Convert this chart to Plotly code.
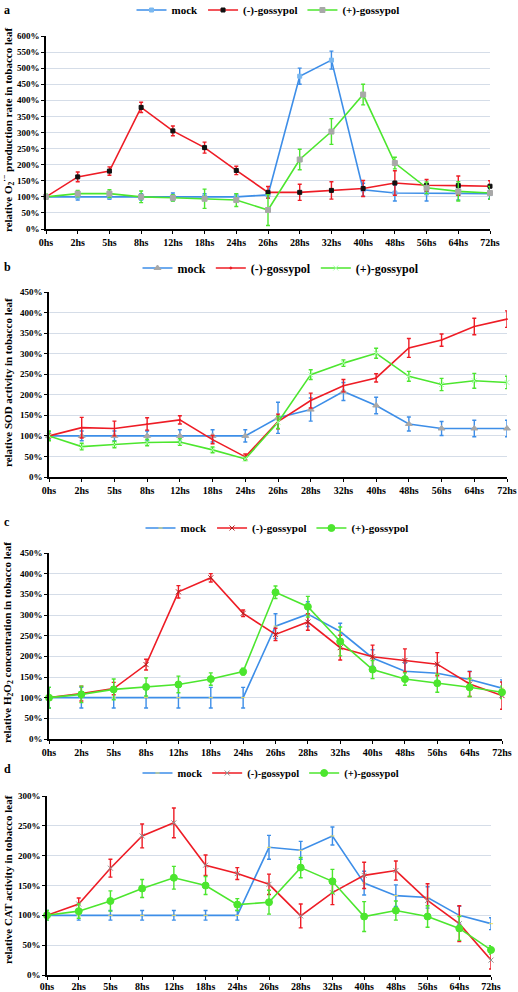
import plotly.graph_objects as go

W, H = 518, 992

times = ["0hs", "2hs", "5hs", "8hs", "12hs", "18hs", "24hs", "26hs", "28hs", "32hs", "40hs", "48hs", "56hs", "64hs", "72hs"]
series_names = ["mock", "(-)-gossypol", "(+)-gossypol"]

# Panel a: relative O2- production rate (%)
a_mock = [100, 100, 100, 100, 100, 100, 100, 106, 475, 525, 122, 112, 112, 110, 110]
a_mock_err = [5, 10, 8, 10, 12, 10, 8, 10, 25, 28, 20, 25, 25, 20, 15]
a_neg = [100, 162, 180, 378, 305, 253, 182, 114, 114, 120, 126, 143, 136, 135, 133]
a_neg_err = [5, 15, 13, 16, 15, 17, 13, 18, 25, 27, 25, 38, 18, 30, 17]
a_pos = [100, 110, 110, 100, 97, 94, 90, 59, 216, 303, 418, 205, 128, 117, 112]
a_pos_err = [8, 10, 12, 18, 10, 30, 20, 48, 32, 40, 32, 18, 18, 30, 20]

# Panel b: relative SOD activity (%)
b_mock = [100, 100, 100, 100, 100, 100, 100, 144, 164, 208, 174, 129, 118, 118, 118]
b_mock_err = [10, 12, 12, 12, 15, 15, 15, 38, 28, 22, 20, 17, 17, 20, 20]
b_neg = [100, 120, 118, 129, 139, 91, 49, 135, 186, 222, 241, 314, 333, 366, 384]
b_neg_err = [5, 25, 18, 15, 10, 10, 7, 18, 18, 15, 10, 23, 15, 20, 20]
b_pos = [100, 74, 79, 84, 85, 66, 44, 133, 249, 277, 301, 245, 225, 234, 230]
b_pos_err = [12, 8, 8, 8, 8, 7, 4, 15, 12, 8, 12, 12, 15, 18, 15]

# Panel c: relative H2O2 concentration (%)
c_mock = [100, 100, 100, 100, 100, 100, 100, 273, 302, 260, 196, 164, 159, 144, 123]
c_mock_err = [25, 25, 25, 25, 25, 25, 25, 30, 30, 20, 20, 20, 20, 20, 20]
c_neg = [100, 110, 122, 180, 356, 390, 304, 253, 283, 221, 199, 190, 181, 133, 105]
c_neg_err = [5, 18, 15, 13, 15, 10, 8, 15, 20, 30, 28, 28, 28, 30, 33]
c_pos = [100, 108, 120, 126, 132, 145, 163, 355, 320, 236, 168, 145, 135, 125, 113]
c_pos_err = [25, 20, 25, 22, 20, 15, 8, 15, 25, 35, 22, 15, 22, 22, 15]

# Panel d: relative CAT activity (%)
d_mock = [100, 100, 100, 100, 100, 100, 100, 214, 209, 233, 154, 133, 130, 100, 86]
d_mock_err = [8, 8, 8, 8, 8, 8, 8, 20, 15, 15, 20, 18, 18, 15, 10]
d_neg = [100, 119, 179, 233, 255, 184, 170, 152, 99, 138, 167, 175, 125, 86, 25]
d_neg_err = [5, 10, 15, 20, 25, 17, 10, 17, 20, 20, 22, 16, 28, 30, 15]
d_pos = [100, 107, 124, 145, 163, 150, 118, 122, 180, 157, 98, 108, 98, 78, 42]
d_pos_err = [8, 12, 17, 15, 19, 15, 10, 20, 17, 20, 25, 16, 18, 20, 7]

y_titles = [
    "relative O<sub>2</sub><sup>·−</sup> production rate in tobacco leaf",
    "relative SOD activity in tobacco leaf",
    "relative H<sub>2</sub>O<sub>2</sub> concentration in tobacco leaf",
    "relative CAT activity in tobacco leaf",
]
panel_letters = ["a", "b", "c", "d"]
y_max = [600, 450, 450, 300]

BLUE = "#3d8ee8"
RED = "#ee1c25"
GREEN = "#4ce62e"
colors = [BLUE, RED, GREEN]

# marker styles per panel: (symbol, size, color) for mock, neg, pos
markers = [
    [("square", 4, "#7ab8f0"), ("square", 4, "#111111"), ("square", 5, "#a8a8a8")],
    [("triangle-up", 6, "#a8a8a8"), ("circle", 1, RED), ("x-thin-open", 5, "#aaffaa")],
    [("line-ew", 3, "#f0e060"), ("x-thin-open", 5, "#aa2020"), ("circle", 7, GREEN)],
    [("line-ew", 3, "#f0e060"), ("x-thin-open", 5, "#909090"), ("circle", 7, GREEN)],
]

data = [
    [(a_mock, a_mock_err), (a_neg, a_neg_err), (a_pos, a_pos_err)],
    [(b_mock, b_mock_err), (b_neg, b_neg_err), (b_pos, b_pos_err)],
    [(c_mock, c_mock_err), (c_neg, c_neg_err), (c_pos, c_pos_err)],
    [(d_mock, d_mock_err), (d_neg, d_neg_err), (d_pos, d_pos_err)],
]

# layout boxes in pixels: (x0, x1, ytop, ybottom)
boxes = [(46, 490, 36, 229), (49, 507, 292, 477), (49, 502, 553, 739), (47, 491, 796, 975)]
legend_pos = [(268, 10), (281, 268), (277, 528), (271, 773)]
legend_font = [11, 12, 11, 10.5]
xlabel_standoff = [0, 0, 0, -2]
letter_pos = [(7, 10), (7, 267), (7, 522), (7, 769)]
ytitle_pos = [(8, 130), (8, 383), (8, 643), (8, 880)]

FONT = "Liberation Serif"
fig = go.Figure()
xs = list(range(len(times)))

for p in range(4):
    ax = "" if p == 0 else str(p + 1)
    leg = "legend" if p == 0 else "legend%d" % (p + 1)
    for s in range(3):
        vals, errs = data[p][s]
        sym, sz, mc = markers[p][s]
        fig.add_trace(go.Scatter(
            x=xs, y=vals, name=series_names[s], mode="lines+markers",
            line=dict(color=colors[s], width=1.6),
            marker=dict(symbol=sym, size=sz, color=mc, line=dict(color=mc, width=1)),
            error_y=dict(type="data", array=errs, visible=True, color=colors[s], thickness=1.4, width=2),
            xaxis="x" + ax, yaxis="y" + ax, legend=leg, showlegend=True, cliponaxis=False,
        ))
    x0, x1, yt, yb = boxes[p]
    fig.layout["xaxis" + ax] = dict(
        domain=[x0 / W, x1 / W], anchor="y" + ax, range=[0, 14], automargin=False,
        tickmode="array", tickvals=xs, ticktext=times,
        showline=True, linecolor="black", linewidth=1.5, ticks="outside", ticklen=3,
        tickcolor="black", showgrid=False, zeroline=False,
        ticklabelstandoff=xlabel_standoff[p],
        tickfont=dict(family=FONT, size=10, color="black", weight="bold"),
    )
    ym = y_max[p]
    fig.layout["yaxis" + ax] = dict(
        domain=[1 - yb / H, 1 - yt / H], anchor="x" + ax, range=[0, ym], automargin=False,
        tickmode="linear", tick0=0, dtick=50, ticksuffix="%",
        showline=True, linecolor="black", linewidth=1.5, ticks="outside", ticklen=3,
        tickcolor="black", showgrid=True, gridcolor="#d5dde8", gridwidth=1, zeroline=False,
        tickfont=dict(family=FONT, size=9, color="black", weight="bold"),
    )
    lx, ly = legend_pos[p]
    fig.layout[leg] = dict(
        orientation="h", x=lx / W, y=1 - ly / H, xanchor="center", yanchor="middle",
        font=dict(family=FONT, size=legend_font[p], color="black", weight="bold"),
        bgcolor="rgba(0,0,0,0)", itemwidth=30, tracegroupgap=0,
    )
    px_, py_ = letter_pos[p]
    fig.add_annotation(x=px_ / W, y=1 - py_ / H, xref="paper", yref="paper",
                       text="<b>%s</b>" % panel_letters[p], showarrow=False,
                       font=dict(family=FONT, size=12, color="black"), xanchor="center", yanchor="middle")
    tx, ty = ytitle_pos[p]
    fig.add_annotation(x=tx / W, y=1 - ty / H, xref="paper", yref="paper",
                       text="<b>%s</b>" % y_titles[p], showarrow=False, textangle=-90,
                       font=dict(family=FONT, size=11, color="black"), xanchor="center", yanchor="middle")

fig.update_layout(width=W, height=H, margin=dict(l=0, r=0, t=0, b=0, autoexpand=False),
                  paper_bgcolor="white", plot_bgcolor="white", showlegend=True)

fig.write_html("out.html", config={"displayModeBar": False},
               post_script="document.body.style.margin='0px';document.body.style.overflow='hidden';")
